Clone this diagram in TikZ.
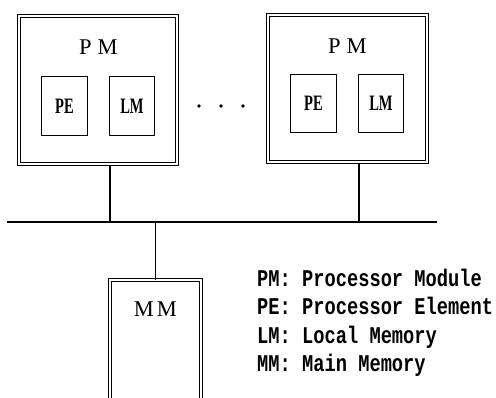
\documentclass[tikz,border=0pt]{standalone}
\usepackage{fontspec}
\setmainfont{Liberation Serif}
\newfontfamily\condserif[FakeStretch=0.66]{Liberation Serif}
\newfontfamily\legendfont[FakeStretch=0.78]{Liberation Mono}
\begin{document}
\begin{tikzpicture}[x=1pt,y=-1pt,
  dbox/.style={draw, double, line width=1pt, double distance=1.8pt, inner sep=0pt},
  sbox/.style={draw, line width=1.3pt, inner sep=0pt, font=\fontsize{22}{22}\condserif\bfseries},
  biglabel/.style={inner sep=0pt, font=\fontsize{22.5}{22.5}\selectfont},
  legend/.style={anchor=base west, inner sep=0pt, font=\fontsize{24}{24}\legendfont\bfseries},
  conn/.style={line width=1.3pt},
  dotmark/.style={circle, fill, inner sep=0pt, minimum size=3.6pt}]
\useasboundingbox (0,0) rectangle (496,397);
\clip (0,0) rectangle (496,397);
% processor modules
\node[dbox, minimum width=158.2pt, minimum height=148.2pt] (PM1) at (98,90) {};
\node[dbox, minimum width=159.2pt, minimum height=147.2pt] (PM2) at (347.5,88.5) {};
\node[biglabel] (PM1l) at (98.5,47) {P\hspace{6pt}M};
\node[biglabel] (PM2l) at (347.5,46) {P\hspace{6pt}M};
\node[sbox, minimum width=45.7pt, minimum height=58.7pt] (PE1) at (64.5,106) {PE};
\node[sbox, minimum width=44.7pt, minimum height=58.7pt] (LM1) at (132,106) {LM};
\node[sbox, minimum width=45.7pt, minimum height=57.7pt] (PE2) at (313.5,103.5) {PE};
\node[sbox, minimum width=44.7pt, minimum height=57.7pt] (LM2) at (381,103.5) {LM};
% dots
\node[dotmark] (d1) at (199,106) {};
\node[dotmark] (d2) at (221,106) {};
\node[dotmark] (d3) at (243,106) {};
% main memory
\node[dbox, minimum width=91.2pt, minimum height=140pt] (MM) at (155.5,350) {};
\node[biglabel] (MMl) at (155.5,309.5) {M\hspace{3pt}M};
% bus
\coordinate (busL) at (7,222);
\coordinate (busR) at (437,222);
\coordinate (t1) at (110,222);
\coordinate (t2) at (359,222);
\draw[conn] (busL) -- (busR);
\draw[conn] (PM1.south -| t1) -- (t1);
\draw[conn] (PM2.south -| t2) -- (t2);
\draw[conn] (MM.north) -- (MM.north |- busL);
% legend
\node[legend] (L1) at (257,286) {PM: Processor Module};
\node[legend] (L2) at (257,314.5) {PE: Processor Element};
\node[legend] (L3) at (257,343) {LM: Local Memory};
\node[legend] (L4) at (257,371.5) {MM: Main Memory};
\end{tikzpicture}
\end{document}
